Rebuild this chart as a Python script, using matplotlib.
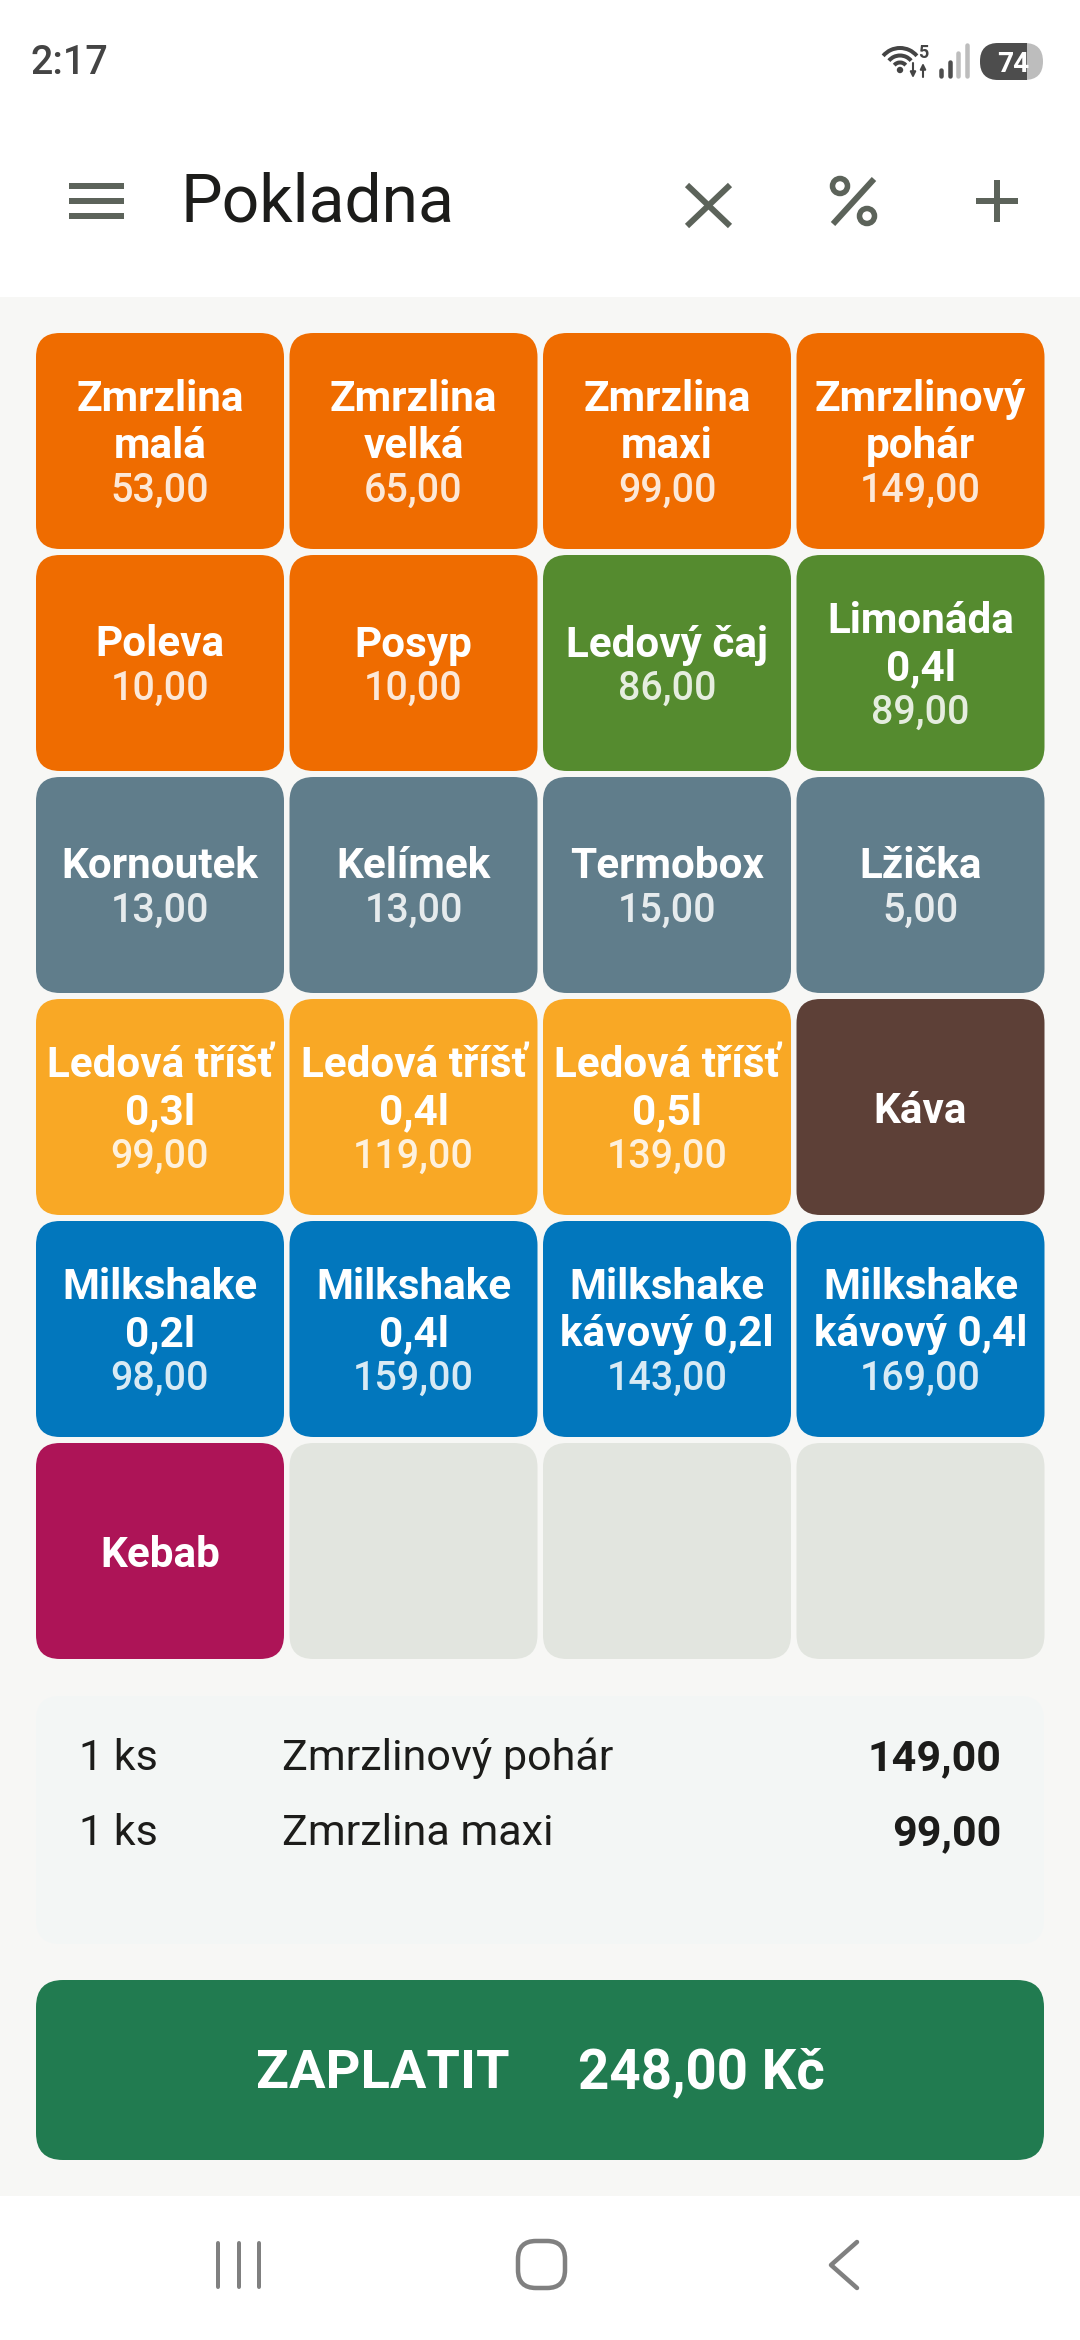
import matplotlib
matplotlib.use("Agg")
import matplotlib.pyplot as plt
from matplotlib.patches import FancyBboxPatch, Rectangle, Circle, Arc

# ---- data ----
names = ["Zmrzlina\nmalá", "Zmrzlina\nvelká", "Zmrzlina\nmaxi", "Zmrzlinový\npohár",
         "Poleva", "Posyp", "Ledový čaj", "Limonáda\n0,4l",
         "Kornoutek", "Kelímek", "Termobox", "Lžička",
         "Ledová tříšť\n0,3l", "Ledová tříšť\n0,4l", "Ledová tříšť\n0,5l", "Káva",
         "Milkshake\n0,2l", "Milkshake\n0,4l", "Milkshake\nkávový 0,2l", "Milkshake\nkávový 0,4l",
         "Kebab", "", "", ""]
prices = ["53,00", "65,00", "99,00", "149,00",
          "10,00", "10,00", "86,00", "89,00",
          "13,00", "13,00", "15,00", "5,00",
          "99,00", "119,00", "139,00", "",
          "98,00", "159,00", "143,00", "169,00",
          "", "", "", ""]
groups = ["o", "o", "o", "o", "o", "o", "g", "g",
          "s", "s", "s", "s", "y", "y", "y", "b",
          "u", "u", "u", "u", "m", "e", "e", "e"]
palette = {"o": "#EF6C00", "g": "#558B2F", "s": "#607D8B", "y": "#F9A825",
           "b": "#5D4037", "u": "#0277BD", "m": "#AD1457", "e": "#E2E5DF"}
order_qty = ["1 ks", "1 ks"]
order_names = ["Zmrzlinový pohár", "Zmrzlina maxi"]
order_vals = ["149,00", "99,00"]
pay_label = "ZAPLATIT"
pay_total = "248,00 Kč"
title = "Pokladna"
clock = "2:17"
battery = "74"

plt.rcParams["font.family"] = ["Roboto", "DejaVu Sans"]
fig = plt.figure(figsize=(10.8, 23.4), dpi=100, facecolor="white")
ax = fig.add_axes([0, 0, 1, 1])
ax.set_xlim(0, 1080)
ax.set_ylim(2340, 0)
ax.axis("off")

def rrect(x, y, w, h, r, color, z=2):
    ax.add_patch(FancyBboxPatch((x + r, y + r), w - 2 * r, h - 2 * r,
                                boxstyle=f"round,pad={r},rounding_size={r}",
                                fc=color, ec="none", lw=0, zorder=z))

def px(v):  # pixels to points
    return v * 72 / 100

ax.add_patch(Rectangle((0, 297), 1080, 1899, fc="#F7F7F5", ec="none", zorder=1))

# grid
X0, Y0, PX, PY, W, H = 36, 333, 253.5, 222, 248, 216
NAME_FS, PRICE_FS, LH, PLH = px(42.3), px(39.5), 47.5, 45
for i, (n, p, g) in enumerate(zip(names, prices, groups)):
    c, r = i % 4, i // 4
    x, y = X0 + c * PX, Y0 + r * PY
    rrect(x, y, W, H, 24, palette[g])
    cx = x + W / 2
    lines = n.split("\n") if n else []
    total = len(lines) * LH + (PLH if p else 0)
    ty = y + H / 2 - total / 2
    for ln in lines:
        ax.text(cx, ty + LH * 0.5 + 16, ln, ha="center", va="baseline", color="white",
                fontsize=NAME_FS, fontweight="bold", zorder=3)
        ty += LH
    if p:
        ax.text(cx, ty + PLH * 0.5 + 13, p, ha="center", va="baseline", color="#FFFFFF", alpha=0.85,
                fontsize=PRICE_FS, fontweight="medium", zorder=3)

# order list
rrect(36, 1696, 1008, 248, 24, "#F3F6F5")
for k, (q, nm, v) in enumerate(zip(order_qty, order_names, order_vals)):
    yb = 1770 + 75 * k
    ax.text(79, yb, q, fontsize=px(43), color="#1C1C1A", va="baseline", zorder=3)
    ax.text(282, yb, nm, fontsize=px(43.2), color="#1C1C1A", va="baseline", zorder=3)
    ax.text(1001, yb, v, fontsize=px(43), color="#1C1C1A", va="baseline", ha="right",
            fontweight="bold", zorder=3)

# pay button
rrect(36, 1980, 1008, 180, 27, "#217B50")
ax.text(256, 2088, pay_label, fontsize=px(54.2), color="white", fontweight="bold", va="baseline", zorder=3)
ax.text(578, 2088, pay_total, fontsize=px(54.6), color="white", fontweight="bold", va="baseline", zorder=3)

# header
ax.text(180, 222, title, fontsize=px(66), color="#1C1C1A", va="baseline", zorder=3)
ICON = "#5C635A"
for yb in (183, 198, 213):
    ax.add_patch(Rectangle((69, yb), 55, 6, fc=ICON, ec="none", zorder=3))
ax.plot([687, 730], [185, 226], color=ICON, lw=px(6), solid_capstyle="butt", zorder=3)
ax.plot([687, 730], [226, 185], color=ICON, lw=px(6), solid_capstyle="butt", zorder=3)
ax.plot([833, 874], [224, 179], color=ICON, lw=px(6), solid_capstyle="butt", zorder=3)
ax.add_patch(Circle((840, 186), 7.5, fc="none", ec=ICON, lw=px(5.5), zorder=3))
ax.add_patch(Circle((867, 216), 7.5, fc="none", ec=ICON, lw=px(5.5), zorder=3))
ax.plot([976, 1018], [201, 201], color=ICON, lw=px(6), solid_capstyle="butt", zorder=3)
ax.plot([997, 997], [180, 222], color=ICON, lw=px(6), solid_capstyle="butt", zorder=3)

# status bar
ST = "#444444"
ax.text(31, 74, clock, fontsize=px(39.5), color=ST, fontweight="medium", va="baseline", zorder=3)
for rad in (7.5, 14.5, 22):
    ax.add_patch(Arc((900, 70), 2 * rad, 2 * rad, theta1=220, theta2=320, color=ST, lw=px(4), zorder=3))
ax.add_patch(Circle((900, 70), 3.2, fc=ST, ec="none", zorder=3))
ax.text(923, 58, "5", fontsize=px(18), color=ST, ha="center", va="baseline", fontweight="bold", zorder=3)
for xa, ya, yb in ((913, 63, 78), (923, 77, 63)):
    ax.annotate("", xy=(xa, yb), xytext=(xa, ya),
                arrowprops=dict(arrowstyle="-|>", color=ST, lw=1.5, mutation_scale=8,
                                shrinkA=0, shrinkB=0), zorder=3)
for xb, top, col in ((941, 70, "#4D4D4D"), (950, 62, "#4D4D4D"), (958, 53, "#BDBDBD"), (967, 45, "#BDBDBD")):
    ax.plot([xb, xb], [top, 76], color=col, lw=px(4.5), solid_capstyle="round", zorder=3)
rrect(980, 43, 63, 37, 18.5, "#BDBDBD")
ax.add_patch(FancyBboxPatch((998.5, 61.5), 9, 0, boxstyle="round,pad=18.5,rounding_size=18.5",
                            fc="#4D4D4D", ec="none", lw=0, zorder=3))
ax.add_patch(Rectangle((1006, 43), 21, 37, fc="#4D4D4D", ec="none", zorder=3))
ax.text(1013, 72, battery, fontsize=px(28), color="white", ha="center", va="baseline", fontweight="bold", zorder=4)

# nav bar
NAV = "#808080"
for xb in (218, 239, 259):
    ax.plot([xb, xb], [2243, 2287], color=NAV, lw=px(4), solid_capstyle="round", zorder=3)
ax.add_patch(FancyBboxPatch((536, 2259), 11, 11, boxstyle="round,pad=18,rounding_size=18",
                            fc="none", ec=NAV, lw=px(4.5), zorder=3))
ax.plot([857, 831, 857], [2242, 2265, 2288], color=NAV, lw=px(4.5), solid_capstyle="round",
        solid_joinstyle="round", zorder=3)

fig.savefig("out.png", dpi=100)
